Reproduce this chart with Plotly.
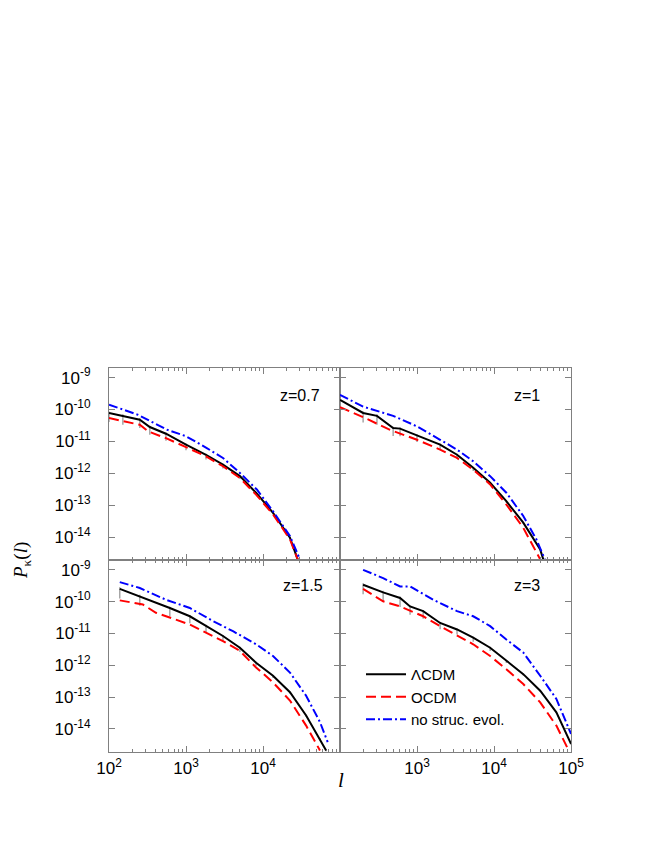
import plotly.graph_objects as go

# ---------------- data (log10 l, log10 P) ----------------
p1_lcdm_logl = [2.0, 2.18, 2.40, 2.53, 2.74, 3.0, 3.26, 3.48, 3.70, 3.91, 4.13, 4.35, 4.45]
p1_lcdm_logp = [-10.11, -10.20, -10.32, -10.55, -10.76, -11.10, -11.42, -11.73, -12.09, -12.61, -13.24, -14.02, -14.70]
p1_ocdm_logl = [2.0, 2.18, 2.40, 2.51, 2.74, 3.0, 3.26, 3.48, 3.70, 3.91, 4.13, 4.35, 4.45]
p1_ocdm_logp = [-10.27, -10.375, -10.48, -10.69, -10.90, -11.18, -11.47, -11.78, -12.15, -12.67, -13.29, -14.07, -14.70]
p1_nse_logl = [2.0, 2.38, 2.75, 3.0, 3.27, 3.48, 3.70, 3.92, 4.13, 4.35, 4.48]
p1_nse_logp = [-9.85, -10.17, -10.63, -10.84, -11.21, -11.52, -11.99, -12.51, -13.19, -13.97, -14.70]

p2_lcdm_logl = [2.0, 2.30, 2.48, 2.69, 2.78, 3.0, 3.30, 3.52, 3.73, 3.95, 4.16, 4.38, 4.60, 4.64]
p2_lcdm_logp = [-9.70, -10.11, -10.20, -10.58, -10.60, -10.82, -11.10, -11.42, -11.83, -12.30, -12.875, -13.55, -14.39, -14.70]
p2_ocdm_logl = [2.0, 2.30, 2.65, 3.0, 3.30, 3.52, 3.73, 3.95, 4.16, 4.38, 4.60]
p2_ocdm_logp = [-9.93, -10.24, -10.64, -10.95, -11.26, -11.52, -11.89, -12.35, -12.98, -13.71, -14.70]
p2_nse_logl = [2.0, 2.30, 2.69, 3.0, 3.30, 3.52, 3.73, 3.95, 4.16, 4.38, 4.55, 4.66]
p2_nse_logp = [-9.54, -9.91, -10.20, -10.53, -10.95, -11.26, -11.625, -12.09, -12.61, -13.34, -14.07, -14.70]

p3_lcdm_logl = [2.14, 2.40, 2.79, 3.05, 3.26, 3.48, 3.70, 3.91, 4.13, 4.35, 4.56, 4.74, 4.82]
p3_lcdm_logp = [-9.60, -9.83, -10.20, -10.46, -10.77, -11.08, -11.45, -11.92, -12.33, -12.85, -13.58, -14.31, -14.68]
p3_ocdm_logl = [2.14, 2.44, 2.61, 3.05, 3.48, 3.70, 3.91, 4.13, 4.35, 4.56, 4.74]
p3_ocdm_logp = [-9.96, -10.09, -10.35, -10.72, -11.24, -11.55, -12.07, -12.54, -13.11, -13.90, -14.68]
p3_nse_logl = [2.14, 2.40, 2.74, 3.05, 3.35, 3.61, 3.91, 4.13, 4.35, 4.56, 4.74, 4.84]
p3_nse_logp = [-9.385, -9.57, -9.94, -10.20, -10.61, -10.93, -11.34, -11.71, -12.23, -12.96, -13.79, -14.42]

p4_lcdm_logl = [2.30, 2.56, 2.78, 2.91, 3.08, 3.30, 3.52, 3.73, 3.95, 4.16, 4.38, 4.60, 4.81, 5.0]
p4_lcdm_logp = [-9.47, -9.71, -9.885, -10.15, -10.30, -10.67, -10.875, -11.135, -11.45, -11.86, -12.28, -12.80, -13.48, -14.47]
p4_ocdm_logl = [2.30, 2.56, 2.78, 3.08, 3.30, 3.52, 3.73, 3.95, 4.16, 4.38, 4.60, 4.81, 4.97]
p4_ocdm_logp = [-9.60, -9.99, -10.15, -10.46, -10.77, -11.06, -11.34, -11.71, -12.125, -12.59, -13.17, -13.90, -14.68]
p4_nse_logl = [2.30, 2.56, 2.78, 2.91, 3.21, 3.52, 3.73, 3.95, 4.16, 4.38, 4.60, 4.81, 5.0]
p4_nse_logp = [-9.0, -9.26, -9.52, -9.52, -9.94, -10.30, -10.46, -10.77, -11.19, -11.60, -12.33, -13.06, -14.16]

# LCDM error bars: extent below / above the curve, in decades (grey bars)
p1_err_dn = [0.28, 0.28, 0.26, 0.24, 0.22, 0.18, 0.15, 0.12, 0.09, 0.07, 0.05, 0.04, 0.03]
p1_err_up = [0.05, 0.05, 0.05, 0.04, 0.04, 0.04, 0.03, 0.03, 0.03, 0.02, 0.02, 0.02, 0.02]
p2_err_dn = [0.30, 0.30, 0.28, 0.25, 0.24, 0.20, 0.16, 0.13, 0.10, 0.07, 0.05, 0.04, 0.03, 0.03]
p2_err_up = [0.05, 0.05, 0.05, 0.04, 0.04, 0.04, 0.03, 0.03, 0.03, 0.02, 0.02, 0.02, 0.02, 0.02]
p3_err_dn = [0.30, 0.30, 0.26, 0.22, 0.19, 0.16, 0.13, 0.10, 0.07, 0.05, 0.04, 0.03, 0.03]
p3_err_up = [0.05, 0.05, 0.04, 0.04, 0.04, 0.03, 0.03, 0.03, 0.02, 0.02, 0.02, 0.02, 0.02]
p4_err_dn = [0.30, 0.30, 0.28, 0.26, 0.24, 0.20, 0.16, 0.13, 0.10, 0.07, 0.05, 0.04, 0.03, 0.03]
p4_err_up = [0.05, 0.05, 0.05, 0.04, 0.04, 0.04, 0.03, 0.03, 0.03, 0.02, 0.02, 0.02, 0.02, 0.02]

panel_labels = ["z=0.7", "z=1", "z=1.5", "z=3"]
series_names = ["ΛCDM", "OCDM", "no struc. evol."]
y_tickvals = [1e-9, 1e-10, 1e-11, 1e-12, 1e-13, 1e-14]
y_ticktext = ["10<sup>-9</sup>", "10<sup>-10</sup>", "10<sup>-11</sup>", "10<sup>-12</sup>",
              "10<sup>-13</sup>", "10<sup>-14</sup>"]
x_tickvals_left = [1e2, 1e3, 1e4]
x_ticktext_left = ["10<sup>2</sup>", "10<sup>3</sup>", "10<sup>4</sup>"]
x_tickvals_right = [1e3, 1e4, 1e5]
x_ticktext_right = ["10<sup>3</sup>", "10<sup>4</sup>", "10<sup>5</sup>"]

panels = [
    (p1_lcdm_logl, p1_lcdm_logp, p1_err_dn, p1_err_up, p1_ocdm_logl, p1_ocdm_logp, p1_nse_logl, p1_nse_logp),
    (p2_lcdm_logl, p2_lcdm_logp, p2_err_dn, p2_err_up, p2_ocdm_logl, p2_ocdm_logp, p2_nse_logl, p2_nse_logp),
    (p3_lcdm_logl, p3_lcdm_logp, p3_err_dn, p3_err_up, p3_ocdm_logl, p3_ocdm_logp, p3_nse_logl, p3_nse_logp),
    (p4_lcdm_logl, p4_lcdm_logp, p4_err_dn, p4_err_up, p4_ocdm_logl, p4_ocdm_logp, p4_nse_logl, p4_nse_logp),
]

FONT = "Liberation Sans, Arial, Helvetica, sans-serif"
SERIF = "Liberation Serif, Times New Roman, serif"
OFF = 8                      # page body margin of the browser
W, H = 654 - OFF, 846 - OFF  # figure size so that it fills the window


def px(x):
    return (x - OFF) / W


def py(y):
    return 1 - (y - OFF) / H


fig = go.Figure()

for i, (ll, lp, edn, eup, ol, op, nl, np_) in enumerate(panels):
    ax = "" if i == 0 else str(i + 1)
    xa, ya = "x" + ax, "y" + ax
    eb_x, eb_y = [], []
    for l, p, d, u in zip(ll, lp, edn, eup):
        eb_x += [10 ** l, 10 ** l, None]
        eb_y += [10 ** (p - d), 10 ** (p + u), None]
    fig.add_trace(go.Scatter(
        x=eb_x, y=eb_y, mode="lines", line=dict(color="#999999", width=1.3),
        connectgaps=False,
        showlegend=False, hoverinfo="skip", xaxis=xa, yaxis=ya))
    fig.add_trace(go.Scatter(
        x=[10 ** v for v in ll], y=[10 ** v for v in lp], mode="lines", name=series_names[0],
        line=dict(color="black", width=2), showlegend=(i == 3),
        xaxis=xa, yaxis=ya))
    fig.add_trace(go.Scatter(
        x=[10 ** v for v in ol], y=[10 ** v for v in op], mode="lines", name=series_names[1],
        line=dict(color="#ff0000", width=2, dash="10px,5px"), showlegend=(i == 3),
        xaxis=xa, yaxis=ya))
    fig.add_trace(go.Scatter(
        x=[10 ** v for v in nl], y=[10 ** v for v in np_], mode="lines", name=series_names[2],
        line=dict(color="#0000ff", width=2, dash="9px,3px,2px,3px"), showlegend=(i == 3),
        xaxis=xa, yaxis=ya))

xl, xm, xr = px(109), px(340), px(571)
yt, ymid, yb = py(367.7), py(560), py(751.7)
xdoms = [[xl, xm], [xm, xr], [xl, xm], [xm, xr]]
ydoms = [[ymid, yt], [ymid, yt], [yb, ymid], [yb, ymid]]

minor_vals = [m * 10 ** k for k in range(2, 5) for m in range(2, 10)]

frame = "#808080"
layout = dict(
    template="none",
    width=W, height=H, margin=dict(l=0, r=0, t=0, b=0, autoexpand=False),
    paper_bgcolor="white", plot_bgcolor="white",
    font=dict(family=FONT, size=16, color="black"),
    showlegend=True,
    legend=dict(x=px(361), y=py(658), xanchor="left", yanchor="top",
                bgcolor="rgba(0,0,0,0)", font=dict(size=15, family=FONT),
                itemwidth=40, tracegroupgap=0),
)
for i in range(4):
    ax = "" if i == 0 else str(i + 1)
    bottom = i >= 2
    left = i % 2 == 0
    layout["xaxis" + ax] = dict(
        type="log", range=[2, 5], domain=xdoms[i], anchor="y" + ax, automargin=False,
        showline=True, linecolor=frame, linewidth=1, mirror="ticks",
        ticks="inside", ticklen=6, tickcolor=frame,
        tickmode="array",
        tickvals=(x_tickvals_left if left else x_tickvals_right),
        ticktext=(x_ticktext_left if left else x_ticktext_right),
        showticklabels=bottom, showgrid=False, zeroline=False,
        tickfont=dict(size=17, family=FONT), ticklabelstandoff=1,
        minor=dict(ticks="inside", ticklen=3, tickcolor=frame, tickmode="array",
                   tickvals=minor_vals, showgrid=False),
    )
    layout["yaxis" + ax] = dict(
        type="log", range=[-14.72, -8.69], domain=ydoms[i], anchor="x" + ax, automargin=False,
        showline=True, linecolor=frame, linewidth=1, mirror="ticks",
        ticks="inside", ticklen=6, tickcolor=frame,
        tickmode="array", tickvals=y_tickvals, ticktext=y_ticktext,
        showticklabels=left, showgrid=False, zeroline=False,
        tickfont=dict(size=17, family=FONT), ticklabelstandoff=14,
    )
fig.update_layout(**layout)

# panel labels
lab_pos = [(322, 395), (542, 395), (325, 585), (542, 585)]
for (lx, ly), t in zip(lab_pos, panel_labels):
    fig.add_annotation(x=px(lx), y=py(ly), xref="paper", yref="paper", text=t,
                       showarrow=False, xanchor="right", yanchor="middle",
                       font=dict(size=16, family=FONT))

fig.add_annotation(x=px(22), y=py(561), xref="paper", yref="paper",
                   text="<i>P</i><sub>κ</sub>(<i>l</i>)", textangle=-90, showarrow=False,
                   xanchor="center", yanchor="middle",
                   font=dict(size=19, family=SERIF))
fig.add_annotation(x=px(341), y=py(780), xref="paper", yref="paper",
                   text="<i>l</i>", showarrow=False, xanchor="center", yanchor="middle",
                   font=dict(size=21, family=SERIF))

fig.write_html("out.html")
